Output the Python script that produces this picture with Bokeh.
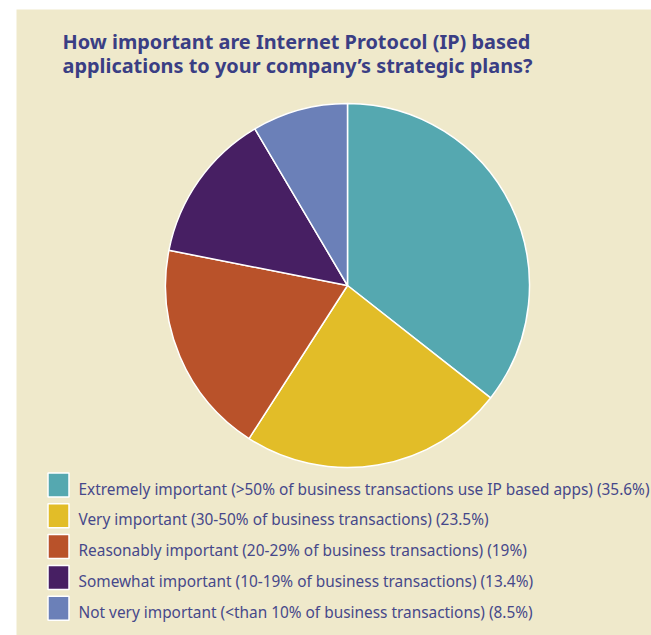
import math
from bokeh.plotting import figure
from bokeh.models import Range1d, ColumnDataSource
from bokeh.core.properties import value
from bokeh.embed import file_html
from bokeh.resources import INLINE

W, H = 651, 635

title_lines = ["How important are Internet Protocol (IP) based",
               "applications to your company\u2019s strategic plans?"]
categories = [
    "Extremely important (>50% of business transactions use IP based apps)",
    "Very important (30-50% of business transactions)",
    "Reasonably important (20-29% of business transactions)",
    "Somewhat important (10-19% of business transactions)",
    "Not very important (<than 10% of business transactions)",
]
shares = [35.6, 23.5, 19, 13.4, 8.5]
share_labels = ["35.6%", "23.5%", "19%", "13.4%", "8.5%"]
colors = ["#55a8b0", "#e2bd28", "#b9522a", "#471f63", "#6b80b8"]

BG = "#efe9cb"
TITLE_C = "#3a3e84"
TEXT_C = "#46488a"

p = figure(width=W, height=H, output_backend="svg", toolbar_location=None,
           x_range=Range1d(0, W), y_range=Range1d(0, H), min_border=0,
           background_fill_color="white", border_fill_color="white")
p.axis.visible = False
p.grid.visible = False
p.outline_line_color = None

def Y(py):
    return H - py

# beige panel
p.quad(left=[16], right=[W], top=[Y(9)], bottom=[Y(H)], fill_color=BG, line_color=None)

# title
p.text(x=[62, 62], y=[Y(41), Y(65)], text=title_lines, text_font=value("Noto Sans"),
       text_font_style="bold", text_font_size="19.9px", text_color=TITLE_C,
       text_baseline="alphabetic", text_align="left")

# pie
total = sum(shares)
cum = [0]
for s in shares:
    cum.append(cum[-1] + s / total)
start = [math.pi / 2 - 2 * math.pi * cum[i + 1] for i in range(len(shares))]
end = [math.pi / 2 - 2 * math.pi * cum[i] for i in range(len(shares))]
src = ColumnDataSource(dict(start=start, end=end, color=colors))
p.wedge(x=347, y=Y(285), radius=182, start_angle="start", end_angle="end",
        direction="anticlock", fill_color="color", line_color="white", line_width=1.5,
        source=src)

# legend
sq0, step = 484.5, 30.8
centers = [sq0 + i * step for i in range(len(categories))]
labels = [f"{c} ({l})" for c, l in zip(categories, share_labels)]
p.rect(x=[58] * len(centers), y=[Y(c) for c in centers], width=21, height=24,
       fill_color=colors, line_color="white", line_width=1.5)
p.text(x=[78] * len(centers), y=[Y(c + 4) for c in centers], text=labels,
       text_font=value("Noto Sans"), text_font_size="15.4px", text_color=TEXT_C,
       text_baseline="alphabetic", text_align="left")

open("out.html", "w").write(file_html(p, INLINE))
